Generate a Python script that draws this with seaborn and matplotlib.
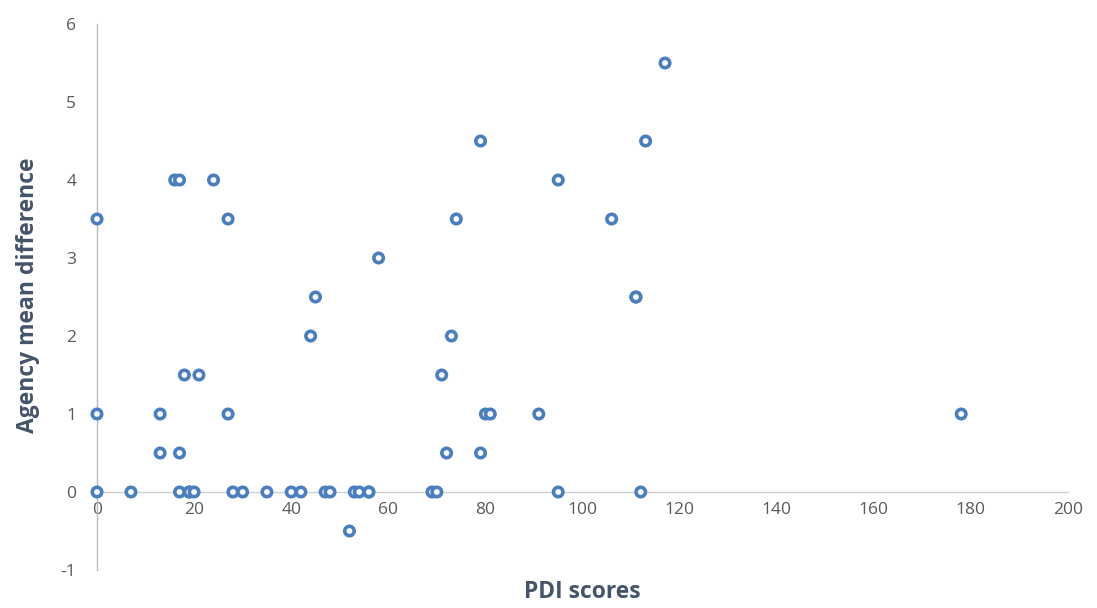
import matplotlib
matplotlib.use("Agg")
import matplotlib.pyplot as plt
import matplotlib.patheffects as pe
import seaborn as sns
import pandas as pd

pdi_scores = [0, 7, 17, 19, 19, 20, 28, 30, 35, 40, 42, 47, 48, 53, 54, 56, 56, 69, 70, 95, 112,
              52,
              13, 17, 72, 79,
              0, 13, 27, 80, 81, 91, 178,
              18, 21, 71,
              44, 73,
              45, 111, 111,
              58,
              0, 27, 74, 106,
              16, 17, 24, 95,
              79, 113,
              117]
agency_diff = [0] * 21 + \
              [-0.5] + \
              [0.5] * 4 + \
              [1] * 7 + \
              [1.5] * 3 + \
              [2] * 2 + \
              [2.5] * 3 + \
              [3] + \
              [3.5] * 4 + \
              [4] * 4 + \
              [4.5] * 2 + \
              [5.5]

x_ticks = [0, 20, 40, 60, 80, 100, 120, 140, 160, 180, 200]
y_ticks = [-1, 0, 1, 2, 3, 4, 5, 6]

df = pd.DataFrame({"PDI scores": pdi_scores, "Agency mean difference": agency_diff})

sns.set_theme(style="white")
plt.rcParams["font.family"] = ["Open Sans", "DejaVu Sans"]

fig = plt.figure(figsize=(10.97, 6.08), dpi=100)
ax = fig.add_axes([97 / 1097, 1 - 570 / 608, (1068 - 97) / 1097, (570 - 24) / 608])

sns.scatterplot(data=df, x="PDI scores", y="Agency mean difference", ax=ax,
                s=46, color="white", edgecolor="#4A7FBF", linewidth=2.6, zorder=3,
                clip_on=False)
for coll in ax.collections:
    coll.set_path_effects([pe.SimplePatchShadow(offset=(0.8, -0.8), shadow_rgbFace="#555555", alpha=0.35),
                           pe.Normal()])

ax.set_xlim(0, 200)
ax.set_ylim(-1, 6)
ax.set_xticks(x_ticks)
ax.set_yticks(y_ticks)
ax.set_xticklabels([str(t) for t in x_ticks])
ax.set_yticklabels([str(t) for t in y_ticks])

for s in ["top", "right"]:
    ax.spines[s].set_visible(False)
ax.spines["bottom"].set_position(("data", 0))
ax.spines["bottom"].set_color("#D0D0D0")
ax.spines["bottom"].set_linewidth(1.0)
ax.spines["left"].set_color("#B4BCCB")
ax.spines["left"].set_linewidth(1.0)

ax.tick_params(axis="both", length=0, labelsize=12.5, labelcolor="#595959")
ax.tick_params(axis="x", pad=7)
ax.tick_params(axis="y", pad=15)

ax.set_xlabel("")
ax.set_ylabel("")
fig.text((97 + 1068) / 2 / 1097, 1 - 592 / 608, "PDI scores", ha="center", va="center",
         fontsize=16.5, fontweight="bold", color="#44546A")
fig.text(28 / 1097, 1 - 295 / 608, "Agency mean difference", ha="center", va="center",
         rotation=90, fontsize=16.5, fontweight="bold", color="#44546A")

fig.savefig("out.png", dpi=100, facecolor="white")
